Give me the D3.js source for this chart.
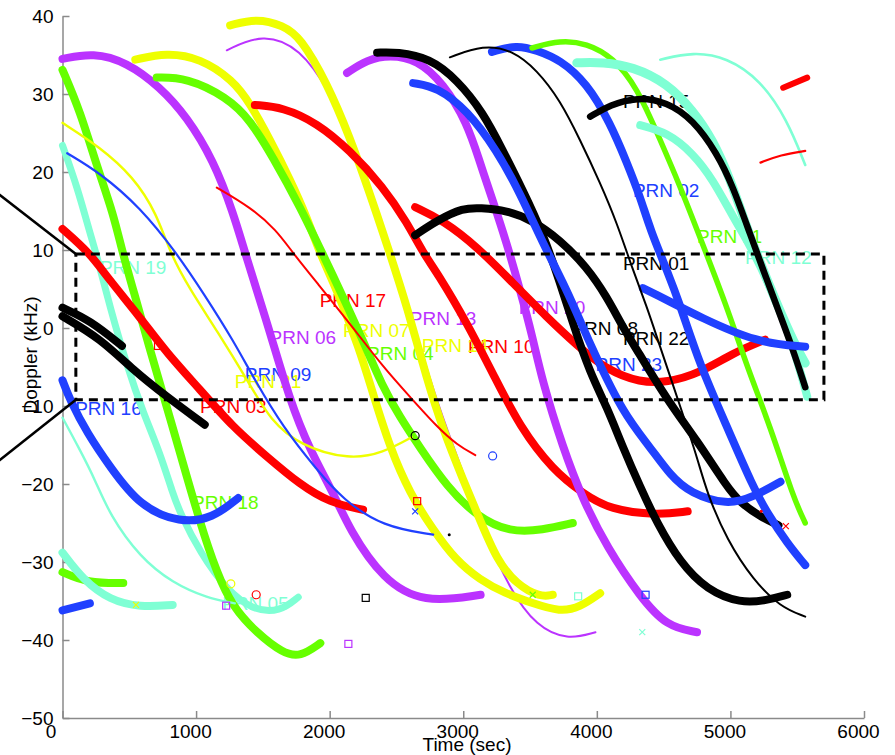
<!DOCTYPE html>
<html>
<head>
<meta charset="utf-8">
<script src="https://cdn.jsdelivr.net/npm/d3@7"></script>
<style>
body { margin: 0; background: #fff; }
text { font-family: "Liberation Sans", Arial, sans-serif; }
</style>
</head>
<body>
<script>
// ticks
const timeTicks = [0, 1000, 2000, 3000, 4000, 5000, 6000];
const dopplerTicks = [-50, -40, -30, -20, -10, 0, 10, 20, 30, 40];

// doppler tracks, [time (s), doppler (kHz)]
const purpleThick1 = [[0,34.5],[230,35.3],[480,34.1],[730,30.9],[930,27.1],[1130,21.5],[1280,14.7],[1370,9.4],[1550,-0.3],[1700,-9.2],[1850,-15.6],[2030,-21.2],[2150,-25.9],[2400,-32.3],[2700,-35.3],[3130,-34.2]];
const purpleThick2 = [[2130,32.7],[2280,34.4],[2450,35.0],[2655,34.4],[2850,31.4],[3030,26.3],[3125,21.2],[3220,16.4],[3325,10.9],[3425,4.9],[3520,-1.2],[3590,-6.7],[3745,-15.3],[3895,-22.0],[4075,-28.1],[4325,-34.5],[4525,-38.3],[4750,-39.0]];
const purpleThin = [[1230,35.6],[1500,37.8],[1780,35.9],[2000,30.3],[2170,24.1],[2320,17.1],[2470,9.6],[2600,2.3],[2750,-6.7],[2880,-13.1],[3020,-19.5],[3150,-25.9],[3350,-33.6],[3550,-38.3],[3780,-40.0],[3990,-39.0]];
const greenThick1 = [[0,33.1],[130,27.9],[260,20.6],[380,14.7],[450,9.6],[530,4.9],[655,-2.8],[780,-10.1],[880,-16.0],[1030,-25.0],[1155,-31.4],[1275,-35.8],[1455,-39.1],[1650,-41.7],[1780,-42.2],[1930,-40.4]];
const greenThick2 = [[705,32.1],[930,32.1],[1230,29.6],[1405,26.7],[1575,21.9],[1780,15.5],[1950,9.4],[2100,4.0],[2265,-2.2],[2390,-7.3],[2525,-11.4],[2675,-15.3],[2880,-20.4],[3105,-24.2],[3350,-26.2],[3595,-25.9],[3820,-25.0]];
const greenThick3 = [[0,-31.3],[185,-32.7],[455,-32.7]];
const greenMedium = [[3515,35.9],[3725,36.9],[3925,36.5],[4120,34.7],[4300,30.9],[4475,24.1],[4625,18.1],[4750,12.6],[4975,2.7],[5125,-5.0],[5300,-12.7],[5470,-21.7],[5560,-25.0]];
const cyanThick1 = [[0,23.4],[110,18.1],[205,12.2],[260,9.1],[355,2.7],[485,-5.0],[605,-10.9],[730,-16.0],[825,-21.2],[880,-23.7],[1030,-28.8],[1230,-33.6],[1425,-36.2],[1630,-36.4],[1765,-34.5]];
const cyanThick2 = [[3850,34.0],[4045,34.1],[4270,33.5],[4525,31.4],[4720,27.9],[4870,24.1],[5000,19.0],[5090,14.5],[5185,10.0],[5335,3.6],[5485,-2.2],[5560,-4.5]];
const cyanThick3 = [[4325,26.0],[4525,25.1],[4720,22.4],[4870,19.0],[5020,14.2],[5170,10.0],[5375,2.3],[5500,-4.1],[5575,-8.8]];
const cyanThick4 = [[0,-28.8],[155,-32.3],[355,-34.9],[580,-35.8],[825,-35.5]];
const cyanThin1 = [[0,-11.5],[130,-15.6],[245,-19.5],[355,-24.0],[580,-29.4],[825,-32.7],[1080,-34.6],[1290,-35.3]];
const cyanThin2 = [[4475,34.4],[4720,35.4],[4975,34.7],[5225,31.8],[5425,26.7],[5560,20.9]];
const redThick1 = [[0,12.7],[205,9.6],[335,6.5],[580,1.4],[780,-3.2],[1030,-7.9],[1275,-12.7],[1530,-16.5],[1780,-20.1],[2000,-22.4],[2250,-23.3]];
const redThick2 = [[1440,28.6],[1650,28.3],[1905,26.3],[2150,22.8],[2400,18.1],[2580,13.5],[2700,9.6],[2805,7.1],[3030,0.6],[3235,-6.3],[3425,-12.7],[3670,-18.2],[3895,-21.2],[4100,-23.3],[4450,-24.0],[4680,-23.5]];
const redThick3 = [[2640,15.5],[2850,13.8],[3105,10.4],[3370,5.8],[3625,1.4],[3850,-2.2],[4075,-5.4],[4325,-7.0],[4525,-7.0],[4770,-5.8],[5020,-3.2],[5260,-1.5]];
const redThick4 = [[5395,30.8],[5575,32.1]];
const redThin1 = [[1155,18.0],[1405,15.5],[1600,12.6],[1725,9.6],[1905,5.8],[2150,0.6],[2400,-5.0],[2600,-8.8],[2805,-12.7],[2955,-15.0],[3090,-16.3]];
const redThin2 = [[5225,21.2],[5375,22.2],[5560,22.7]];
const yellowThick1 = [[545,34.4],[780,35.3],[1030,34.6],[1275,31.8],[1405,28.8],[1555,24.1],[1705,19.0],[1830,14.2],[1925,9.6],[2055,4.9],[2225,-2.8],[2315,-7.9],[2450,-15.3],[2600,-21.2],[2775,-25.9],[2940,-29.7],[3125,-32.3],[3310,-34.0],[3520,-35.3],[3725,-36.4],[3875,-35.8],[4025,-34.0]];
const yellowThick2 = [[1255,38.8],[1455,39.7],[1650,38.8],[1780,37.3],[1980,31.4],[2150,24.5],[2300,17.3],[2450,9.6],[2580,2.7],[2730,-6.7],[2850,-13.1],[3000,-19.5],[3125,-24.6],[3250,-29.7],[3400,-32.9],[3575,-34.5],[3670,-34.2]];
const yellowThin = [[0,26.3],[280,23.2],[530,19.4],[705,14.7],[805,9.6],[955,4.9],[1155,-0.3],[1405,-7.3],[1555,-11.8],[1780,-15.1],[2150,-16.9],[2400,-16.0],[2615,-14.0]];
const blueThick1 = [[0,-6.7],[55,-9.2],[185,-13.5],[355,-17.8],[580,-22.9],[880,-25.0],[1125,-24.4],[1315,-21.8]];
const blueThick2 = [[2625,31.4],[2805,30.9],[3030,27.9],[3250,22.8],[3425,17.3],[3595,10.9],[3775,4.9],[3895,0.1],[3970,-2.8],[4195,-10.9],[4400,-15.3],[4550,-18.9],[4700,-21.2],[4975,-22.7],[5170,-21.7],[5375,-19.7]];
const blueThick3 = [[3215,35.4],[3400,36.3],[3550,35.6],[3725,34.4],[3925,31.4],[4100,26.3],[4225,21.2],[4325,16.8],[4400,12.6],[4525,7.4],[4625,2.9],[4770,-4.7],[4975,-12.7],[5170,-20.4],[5275,-23.7],[5425,-27.6],[5560,-30.4]];
const blueThick4 = [[4345,5.1],[4525,3.6],[4770,1.4],[5200,-1.9],[5560,-2.4]];
const blueThick5 = [[0,-36.2],[205,-35.3]];
const blueThin = [[35,22.4],[280,19.9],[580,15.5],[855,9.6],[1065,4.2],[1275,-1.5],[1440,-6.7],[1650,-12.7],[1905,-18.2],[2100,-22.0],[2400,-25.5],[2775,-26.5]];
const blackThick1 = [[0,2.6],[205,1.0],[445,-2.3]];
const blackThick2 = [[0,1.5],[280,-1.3],[530,-5.4],[780,-8.8],[1065,-12.4]];
const blackThick3 = [[2355,35.3],[2505,35.4],[2750,34.6],[2955,31.8],[3150,27.6],[3295,22.8],[3445,17.7],[3595,12.2],[3725,5.8],[3820,0.6],[3950,-5.8],[4075,-10.1],[4195,-15.3],[4325,-20.4],[4450,-25.0],[4625,-30.1],[4825,-33.6],[5075,-35.3],[5275,-34.9],[5425,-34.2]];
const blackThick4 = [[2640,11.9],[2805,13.8],[3000,15.4],[3125,15.4],[3325,15.1],[3520,13.8],[3725,11.3],[3925,7.8],[4075,4.0],[4195,0.1],[4300,-2.8],[4525,-9.2],[4750,-14.4],[4975,-20.4],[5075,-22.4],[5225,-24.2],[5360,-25.3]];
const blackThick5 = [[3950,27.1],[4100,28.6],[4300,29.6],[4525,29.0],[4720,26.7],[4900,22.4],[5020,18.1],[5135,12.6],[5320,4.0],[5470,-2.8],[5560,-7.6]];
const blackThin = [[2900,34.7],[3150,36.3],[3370,35.6],[3550,33.1],[3725,29.2],[3875,24.1],[4025,18.6],[4150,13.5],[4270,7.4],[4375,2.7],[4450,-1.2],[4625,-10.1],[4750,-16.5],[4825,-21.2],[4975,-27.2],[5170,-32.3],[5375,-35.8],[5560,-37.0]];

// PRN labels: [text, time, doppler, colour key]
const prnLabels = [
  ["PRN 15",4195,29.0,"black"], ["PRN 02",4270,17.7,"blue"], ["PRN 11",4750,11.7,"green"],
  ["PRN 12",5110,9.1,"cyan"], ["PRN 01",4195,8.3,"black"], ["PRN 08",3810,0.0,"black"],
  ["PRN 22",4195,-1.3,"black"], ["PRN 23",3990,-4.7,"blue"], ["PRN 20",3415,2.6,"purple"],
  ["PRN 10",3035,-2.4,"red"], ["PRN 14",2690,-2.2,"yellow"], ["PRN 13",2600,1.2,"purple"],
  ["PRN 04",2280,-3.2,"green"], ["PRN 07",2100,-0.3,"yellow"], ["PRN 17",1925,3.6,"red"],
  ["PRN 06",1550,-1.2,"purple"], ["PRN 09",1365,-5.9,"blue"], ["PRN 21",1290,-6.8,"yellow"],
  ["PRN 03",1030,-10.1,"red"], ["PRN 16",95,-10.3,"blue"], ["PRN 19",280,7.8,"cyan"],
  ["PRN 18",970,-22.4,"green"], ["PRN 05",1195,-35.3,"cyan"]
];

// isolated points: [time, doppler, colour key]
const circlePts = [[2640,-13.8,"black"],[3220,-16.4,"blue"],[1450,-34.2,"red"],[1260,-32.8,"yellow"]];
const squarePts = [[2655,-22.2,"red"],[2270,-34.6,"black"],[2140,-40.5,"purple"],[3860,-34.4,"cyan"],[4365,-34.2,"blue"],[715,-2.3,"red"],[1225,-35.6,"purple"]];
const crossPts = [[2640,-23.5,"blue"],[3520,-34.2,"green"],[550,-35.5,"yellow"],[4340,-39.0,"cyan"],[5415,-25.4,"red"]];
const dotPts = [[2895,-26.5,"black"],[5230,-23.5,"red"]];

// zoom box and its leader lines
const boxTime = [100, 5700];
const boxDoppler = [-9.2, 9.5];
const leaderLines = [[[-600,18.8],[100,9.5]], [[-600,-18.7],[100,-9.2]]];

const col = {purple:"#bb33ff", yellow:"#eeff00", green:"#66ff00", red:"#ff0000",
             blue:"#2040ff", cyan:"#7fffd4", black:"#000000"};

const W = 895, H = 755;
const svg = d3.select("body").append("svg").attr("width", W).attr("height", H);

const x = d3.scaleLinear().domain([0, 6000]).range([62.5, 864]);
const y = d3.scaleLinear().domain([-50, 40]).range([718, 16]);

// axes
const gx = svg.append("g").attr("transform", "translate(0,718)")
  .call(d3.axisBottom(x).tickValues(timeTicks).tickFormat(d3.format("d"))
    .tickSizeInner(-7).tickSizeOuter(0).tickPadding(7));
const gy = svg.append("g").attr("transform", "translate(62.5,0)")
  .call(d3.axisLeft(y).tickValues(dopplerTicks).tickSizeInner(-7).tickSizeOuter(0).tickPadding(9));
[gx, gy].forEach(function(g){
  g.select(".domain").attr("stroke", "#8a8a8a").attr("stroke-width", 1.5);
  g.selectAll(".tick line").attr("stroke", "#8a8a8a").attr("stroke-width", 1.5);
  g.selectAll(".tick text").attr("fill", "#000").style("font-size", "19px")
    .style("font-family", '"Liberation Sans", Arial, sans-serif');
});
gx.selectAll(".tick text").attr("dx", function(d){ return d === 0 ? -12 : -6; });

svg.append("text").attr("x", 467).attr("y", 751).attr("text-anchor", "middle")
  .style("font-size", "19px").text("Time (sec)");
svg.append("text").attr("transform", "translate(37,355) rotate(-90)").attr("text-anchor", "middle")
  .style("font-size", "19px").text("Doppler (kHz)");

// labels sit under the tracks
svg.append("g").selectAll("text").data(prnLabels).enter().append("text")
  .attr("x", function(d){ return x(d[1]); })
  .attr("y", function(d){ return y(d[2]); })
  .attr("dy", "0.35em")
  .attr("fill", function(d){ return col[d[3]]; })
  .style("font-size", "19px")
  .text(function(d){ return d[0]; });

const line = d3.line()
  .x(function(d){ return x(d[0]); })
  .y(function(d){ return y(d[1]); })
  .curve(d3.curveBasis);

const tracks = [
  [purpleThin, "purple", 2],
  [greenThick3, "green", 8], [cyanThick4, "cyan", 8], [blueThick5, "blue", 8],
  [purpleThick1, "purple", 8], [cyanThick1, "cyan", 7], [greenThick1, "green", 8],
  [redThick1, "red", 8], [blueThick1, "blue", 8],
  [blackThick1, "black", 8], [blackThick2, "black", 8],
  [yellowThick1, "yellow", 8], [greenThick2, "green", 8], [yellowThick2, "yellow", 8],
  [redThick2, "red", 8], [purpleThick2, "purple", 8],
  [redThick3, "red", 8], [blackThick4, "black", 8], [blackThick3, "black", 8],
  [blueThick2, "blue", 8], [blueThick3, "blue", 8], [greenMedium, "green", 5.5],
  [cyanThick2, "cyan", 9], [cyanThick3, "cyan", 8], [blackThick5, "black", 6.5],
  [blueThick4, "blue", 8], [redThick4, "red", 6],
  [cyanThin1, "cyan", 2.4], [yellowThin, "yellow", 2.4], [blueThin, "blue", 2.2],
  [redThin1, "red", 2], [blackThin, "black", 2], [cyanThin2, "cyan", 2.6], [redThin2, "red", 2.2]
];

svg.append("g").selectAll("path").data(tracks).enter().append("path")
  .attr("d", function(d){ return line(d[0]); })
  .attr("fill", "none")
  .attr("stroke", function(d){ return col[d[1]]; })
  .attr("stroke-width", function(d){ return d[2]; })
  .attr("stroke-linecap", "round")
  .attr("stroke-linejoin", "round");

// markers
const mk = svg.append("g").attr("fill", "none").attr("stroke-width", 1.2);
mk.selectAll("circle.c").data(circlePts).enter().append("circle")
  .attr("cx", function(d){ return x(d[0]); }).attr("cy", function(d){ return y(d[1]); })
  .attr("r", 4).attr("stroke", function(d){ return col[d[2]]; });
mk.selectAll("rect").data(squarePts).enter().append("rect")
  .attr("x", function(d){ return x(d[0]) - 3.5; }).attr("y", function(d){ return y(d[1]) - 3.5; })
  .attr("width", 7).attr("height", 7).attr("stroke", function(d){ return col[d[2]]; });
mk.selectAll("path").data(crossPts).enter().append("path")
  .attr("d", function(d){
    const cx = x(d[0]), cy = y(d[1]);
    return "M" + (cx-3) + "," + (cy-3) + "L" + (cx+3) + "," + (cy+3) +
           "M" + (cx-3) + "," + (cy+3) + "L" + (cx+3) + "," + (cy-3);
  })
  .attr("stroke", function(d){ return col[d[2]]; });
mk.selectAll("circle.d").data(dotPts).enter().append("circle")
  .attr("cx", function(d){ return x(d[0]); }).attr("cy", function(d){ return y(d[1]); })
  .attr("r", 1.5).attr("fill", function(d){ return col[d[2]]; }).attr("stroke", "none");

// dashed zoom box
svg.append("rect")
  .attr("x", x(boxTime[0])).attr("y", y(boxDoppler[1]))
  .attr("width", x(boxTime[1]) - x(boxTime[0]))
  .attr("height", y(boxDoppler[0]) - y(boxDoppler[1]))
  .attr("fill", "none").attr("stroke", "#000").attr("stroke-width", 3)
  .attr("stroke-dasharray", "9,6");

svg.append("g").selectAll("path").data(leaderLines).enter().append("path")
  .attr("d", function(d){ return d3.line().x(function(p){ return x(p[0]); }).y(function(p){ return y(p[1]); })(d); })
  .attr("stroke", "#000").attr("stroke-width", 2.5).attr("fill", "none");
</script>
</body>
</html>
